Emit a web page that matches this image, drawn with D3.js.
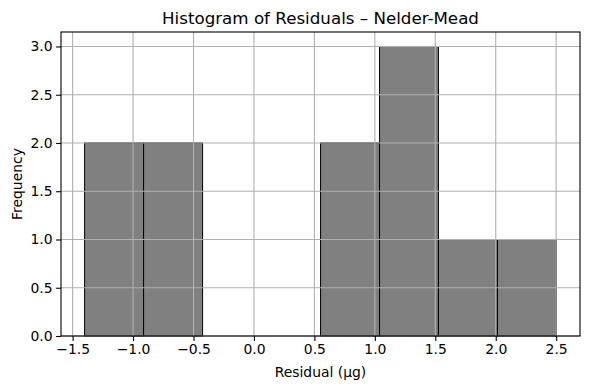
<!DOCTYPE html>
<html>
<head>
<meta charset="utf-8">
<script src="https://cdn.jsdelivr.net/npm/d3@7"></script>
<style>
  body { margin: 0; background: #fff; }
  svg { display: block; font-family: "DejaVu Sans", sans-serif; }
</style>
</head>
<body>
<div id="chart"></div>
<script>
// histogram bins (edges) and counts
const binEdges = [-1.401, -0.913, -0.425, 0.063, 0.551, 1.039, 1.526, 2.014, 2.502];
const counts = [2, 2, 0, 0, 2, 3, 1, 1];
const xTicks = [-1.5, -1.0, -0.5, 0.0, 0.5, 1.0, 1.5, 2.0, 2.5];
const yTicks = [0.0, 0.5, 1.0, 1.5, 2.0, 2.5, 3.0];

const width = 590, height = 390;
const marginLeft = 61, marginRight = 10, marginTop = 32, marginBottom = 54;

const svg = d3.select('#chart').append('svg')
  .attr('width', width)
  .attr('height', height);

const xPad = (binEdges[binEdges.length - 1] - binEdges[0]) * 0.05;
const x = d3.scaleLinear()
  .domain([binEdges[0] - xPad, binEdges[binEdges.length - 1] + xPad])
  .range([marginLeft, width - marginRight]);

const y = d3.scaleLinear()
  .domain([0, d3.max(counts) * 1.05])
  .range([height - marginBottom, marginTop]);

const bins = counts.map((c, i) => ({ x0: binEdges[i], x1: binEdges[i + 1], n: c }));

// bars
svg.append('g')
  .selectAll('rect')
  .data(bins.filter(d => d.n > 0))
  .enter().append('rect')
  .attr('x', d => x(d.x0))
  .attr('y', d => y(d.n))
  .attr('width', d => x(d.x1) - x(d.x0))
  .attr('height', d => y(0) - y(d.n))
  .attr('fill', '#808080')
  .attr('stroke', '#000')
  .attr('stroke-width', 1);

// grid on top
const grid = svg.append('g').attr('stroke', '#b0b0b0').attr('stroke-width', 1.1);
grid.selectAll('.gx').data(xTicks).enter().append('line')
  .attr('x1', d => x(d)).attr('x2', d => x(d))
  .attr('y1', marginTop).attr('y2', height - marginBottom);
grid.selectAll('.gy').data(yTicks).enter().append('line')
  .attr('x1', marginLeft).attr('x2', width - marginRight)
  .attr('y1', d => y(d)).attr('y2', d => y(d));

// frame
svg.append('rect')
  .attr('x', marginLeft).attr('y', marginTop)
  .attr('width', width - marginLeft - marginRight)
  .attr('height', height - marginTop - marginBottom)
  .attr('fill', 'none').attr('stroke', '#000').attr('stroke-width', 1.1);

const fmt = d => d3.format('.1f')(d).replace('-', '\u2212');

const xAxis = svg.append('g')
  .attr('transform', `translate(0,${height - marginBottom})`)
  .call(d3.axisBottom(x).tickValues(xTicks).tickFormat(fmt).tickSize(4.9).tickPadding(3.5));
const yAxis = svg.append('g')
  .attr('transform', `translate(${marginLeft},0)`)
  .call(d3.axisLeft(y).tickValues(yTicks).tickFormat(fmt).tickSize(4.9).tickPadding(3.5));

[xAxis, yAxis].forEach(a => {
  a.select('.domain').remove();
  a.selectAll('.tick line').attr('stroke', '#000').attr('stroke-width', 1.1);
  a.selectAll('.tick text')
    .attr('fill', '#000')
    .style('font-size', '13.9px')
    .style('font-family', '"DejaVu Sans", sans-serif');
});

svg.append('text')
  .attr('x', (marginLeft + width - marginRight) / 2)
  .attr('y', 24)
  .attr('text-anchor', 'middle')
  .style('font-size', '16.7px')
  .text('Histogram of Residuals \u2013 Nelder-Mead');

svg.append('text')
  .attr('x', (marginLeft + width - marginRight) / 2)
  .attr('y', 377)
  .attr('text-anchor', 'middle')
  .style('font-size', '13.9px')
  .text('Residual (\u03bcg)');

svg.append('text')
  .attr('transform', `translate(22,${(marginTop + height - marginBottom) / 2}) rotate(-90)`)
  .attr('text-anchor', 'middle')
  .style('font-size', '13.9px')
  .text('Frequency');
</script>
</body>
</html>
